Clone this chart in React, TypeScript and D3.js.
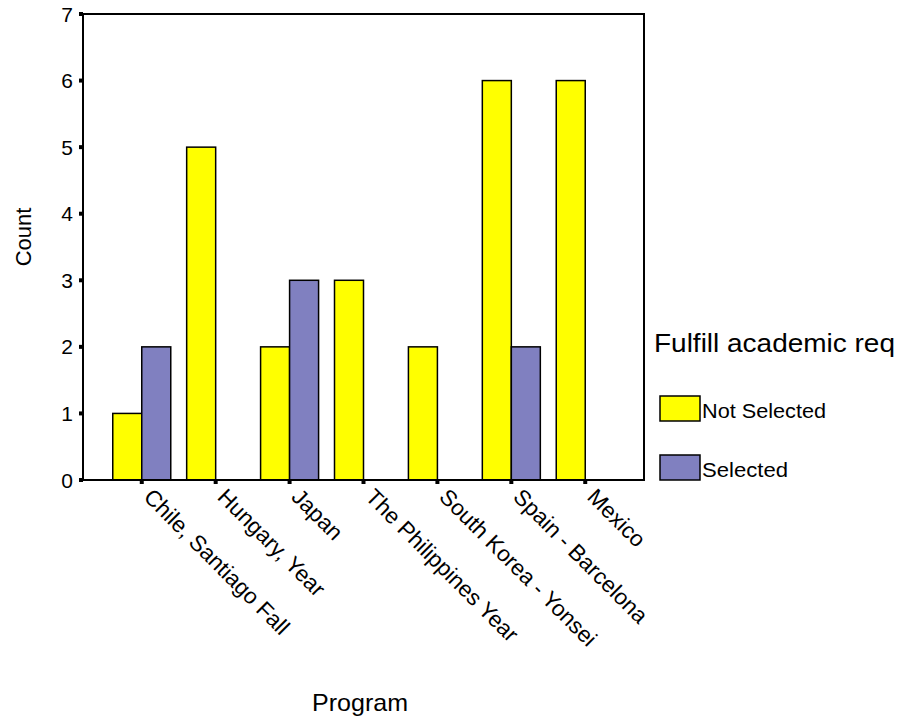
import React from "react";
import * as d3 from "d3";

const programs = [
  "Chile, Santiago Fall",
  "Hungary, Year",
  "Japan",
  "The Philippines Year",
  "South Korea - Yonsei",
  "Spain - Barcelona",
  "Mexico",
];
const seriesNames = ["Not Selected", "Selected"];
const notSelected = [1, 5, 2, 3, 2, 6, 6];
const selected = [2, 0, 3, 0, 0, 2, 0];
const yTicks = [0, 1, 2, 3, 4, 5, 6, 7];
const colors = ["#FFFF00", "#8080C0"];

export default function App() {
  const W = 901;
  const H = 717;
  const left = 83;
  const right = 644;
  const top = 14;
  const bottom = 480;
  const font = "'Liberation Sans', Arial, sans-serif";

  const x = d3.scalePoint<string>().domain(programs).range([left, right]).padding(0.795);
  const sub = d3.scaleBand<string>().domain(seriesNames).range([-29, 29]).padding(0);
  const y = d3.scaleLinear().domain([0, 7]).range([bottom, top]);
  const series = [notSelected, selected];
  const legendW = [124, 86];

  return (
    <svg width={W} height={H} style={{ position: "absolute", left: 0, top: 0, background: "#fff" }}>
      <rect x={0} y={0} width={W} height={H} fill="#fff" />
      {programs.map((p, i) =>
        series.map((vals, s) =>
          vals[i] > 0 ? (
            <rect
              key={p + s}
              x={(x(p) as number) + (sub(seriesNames[s]) as number)}
              y={y(vals[i])}
              width={sub.bandwidth()}
              height={y(0) - y(vals[i])}
              fill={colors[s]}
              stroke="#000"
              strokeWidth={1.5}
            />
          ) : null
        )
      )}
      <rect x={left} y={top} width={right - left} height={bottom - top} fill="none" stroke="#000" strokeWidth={2} />
      {yTicks.map((t) => (
        <g key={t}>
          <rect x={left - 4} y={y(t) - 2} width={4} height={4} fill="#000" />
          <text x={73} y={y(t)} textAnchor="end" dominantBaseline="central" fontFamily={font} fontSize={21}>
            {t}
          </text>
        </g>
      ))}
      {programs.map((p) => (
        <g key={p}>
          <rect x={(x(p) as number) - 2} y={bottom} width={4} height={4} fill="#000" />
          <text
            transform={`translate(${(x(p) as number) + 12},${bottom + 7}) rotate(45)`}
            dominantBaseline="hanging"
            fontFamily={font}
            fontSize={22.5}
          >
            {p}
          </text>
        </g>
      ))}
      <text transform={`translate(31,237) rotate(-90)`} textAnchor="middle" fontFamily={font} fontSize={22}>
        Count
      </text>
      <text x={312} y={711} textLength={96} lengthAdjust="spacingAndGlyphs" fontFamily={font} fontSize={24}>
        Program
      </text>
      <text x={654} y={352} textLength={241} lengthAdjust="spacingAndGlyphs" fontFamily={font} fontSize={26}>
        Fulfill academic req
      </text>
      {seriesNames.map((n, i) => (
        <g key={n}>
          <rect x={660} y={396 + i * 59} width={40} height={25} fill={colors[i]} stroke="#000" strokeWidth={1.5} />
          <text x={702} y={418 + i * 59} textLength={legendW[i]} lengthAdjust="spacingAndGlyphs" fontFamily={font} fontSize={20}>
            {n}
          </text>
        </g>
      ))}
    </svg>
  );
}
